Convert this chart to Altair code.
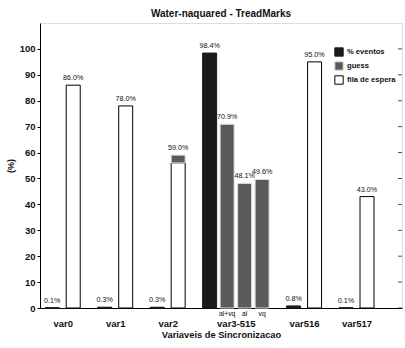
import altair as alt
import pandas as pd

# ---- data ----
groups = ["var0", "var1", "var2", "var3-515", "var516", "var517"]
eventos = [0.1, 0.3, 0.3, 98.4, 0.8, 0.1]          # % eventos
fila = [86.0, 78.0, 59.0, None, 95.0, 43.0]         # fila de espera
guess_top = [0.0, 0.0, 3.0, 0.0, 0.0, 0.0]          # dark cap drawn on top of fila bar
guess_sub = ["al+vq", "al", "vq"]                   # guess bars of var3-515
guess_vals = [70.9, 48.1, 49.6]
y_ticks = list(range(0, 101, 10))
series_names = ["% eventos", "guess", "fila de espera"]
series_colors = ["#1b1b1b", "#5a5a5a", "#ffffff"]
series_strokes = ["#1b1b1b", "#dddddd", "#000000"]

# ---- layout helpers (slot units) ----
PAIR, QUAD, GAP, START, HALF, END = 1.2, 1.0, 1.8, 0.7, 0.4, 2.0
W, H = 362, 285

bars, texts, subs, centers = [], [], [], []
pos = START
for i, g in enumerate(groups):
    xs = [pos]
    bars.append(dict(series="% eventos", x=pos, y0=0.0, y1=eventos[i]))
    texts.append(dict(x=pos, y=eventos[i], label=f"{eventos[i]:.1f}%"))
    if fila[i] is None:
        for s, v in zip(guess_sub, guess_vals):
            pos += QUAD
            xs.append(pos)
            bars.append(dict(series="guess", x=pos, y0=0.0, y1=v))
            texts.append(dict(x=pos, y=v, label=f"{v:.1f}%"))
            subs.append(dict(x=pos, label=s))
    else:
        pos += PAIR
        xs.append(pos)
        f, t = fila[i], guess_top[i]
        bars.append(dict(series="fila de espera", x=pos, y0=0.0, y1=f - t))
        if t:
            bars.append(dict(series="guess", x=pos, y0=f - t, y1=f))
        texts.append(dict(x=pos, y=f, label=f"{f:.1f}%"))
    centers.append(sum(xs) / len(xs))
    pos += GAP
xmax = pos - GAP + END

bar_df = pd.DataFrame(bars)
txt_df = pd.DataFrame(texts)
sub_df = pd.DataFrame(subs)
tick_df = pd.DataFrame({"v": y_ticks})

label_expr = ""
for c, g in zip(centers, groups):
    label_expr += f"abs(datum.value - {c:.4f}) < 0.01 ? '{g}' : "
label_expr += "''"

FONT = "Liberation Sans"
xscale = alt.Scale(domain=[0, xmax], nice=False, zero=False)
yscale = alt.Scale(domain=[0, 110], nice=False)

x_axis = alt.Axis(values=centers, labelExpr=label_expr, title="Variaveis de Sincronizacao",
                  ticks=False, grid=False, labelPadding=10, titlePadding=3, labelOverlap=False,
                  labelFontSize=9.5, labelFontWeight="bold", titleFontSize=9.3, titleFontWeight="bold",
                  labelFont=FONT, titleFont=FONT, domainColor="black", labelColor="#111", titleColor="#111")
y_axis = alt.Axis(values=y_ticks, title="(%)", grid=False, tickSize=3, labelPadding=2,
                  labelOverlap=False, labelFontSize=9.5, labelFontWeight="bold",
                  titleFontSize=9, titleFontWeight="bold",
                  labelFont=FONT, titleFont=FONT, domainColor="black", tickColor="black",
                  labelColor="#111", titleColor="#111", titlePadding=4)

base = alt.Chart(bar_df).transform_calculate(
    xa=f"datum.x - {HALF}", xb=f"datum.x + {HALF}"
)
bar_layer = base.mark_bar(strokeWidth=1).encode(
    x=alt.X("xa:Q", scale=xscale, axis=x_axis),
    x2="xb:Q",
    y=alt.Y("y0:Q", scale=yscale, axis=y_axis),
    y2="y1:Q",
    color=alt.Color("series:N", scale=alt.Scale(domain=series_names, range=series_colors),
                    legend=alt.Legend(title=None, orient="none", legendX=294, legendY=24,
                                      symbolType="square", symbolSize=70, symbolStrokeColor="black",
                                      symbolStrokeWidth=1, rowPadding=0, labelFontSize=7.6,
                                      labelFont=FONT, labelFontWeight="bold", labelColor="#111",
                                      symbolOpacity=1, labelOffset=3)),
    stroke=alt.Stroke("series:N", scale=alt.Scale(domain=series_names, range=series_strokes),
                      legend=None),
)

text_layer = alt.Chart(txt_df).mark_text(dy=-3, baseline="bottom", fontSize=7.2, font=FONT,
                                         color="#111").encode(
    x=alt.X("x:Q", scale=xscale, axis=x_axis),
    y=alt.Y("y:Q", scale=yscale, axis=y_axis),
    text="label:N",
)

sub_layer = alt.Chart(sub_df).mark_text(baseline="top", fontSize=6.8, font=FONT,
                                        color="#111").encode(
    x=alt.X("x:Q", scale=xscale, axis=x_axis),
    y=alt.value(H + 3),
    text="label:N",
)

# inward ticks along the right frame edge
right_ticks = alt.Chart(tick_df).mark_tick(size=4, thickness=1, color="black").encode(
    y=alt.Y("v:Q", scale=yscale, axis=y_axis),
    x=alt.value(W - 2),
)

chart = alt.layer(bar_layer, text_layer, sub_layer, right_ticks).properties(
    width=W, height=H,
    title=alt.Title("Water-naquared - TreadMarks", fontSize=10, font=FONT, fontWeight="bold",
                    color="#111", offset=4),
    autosize=alt.AutoSizeParams(type="none"),
    padding={"left": 40, "top": 23, "right": 3, "bottom": 40},
).configure_view(stroke="black", strokeWidth=1).configure(background="white")

chart.save("out.html", embed_options={"renderer": "svg", "actions": False})
